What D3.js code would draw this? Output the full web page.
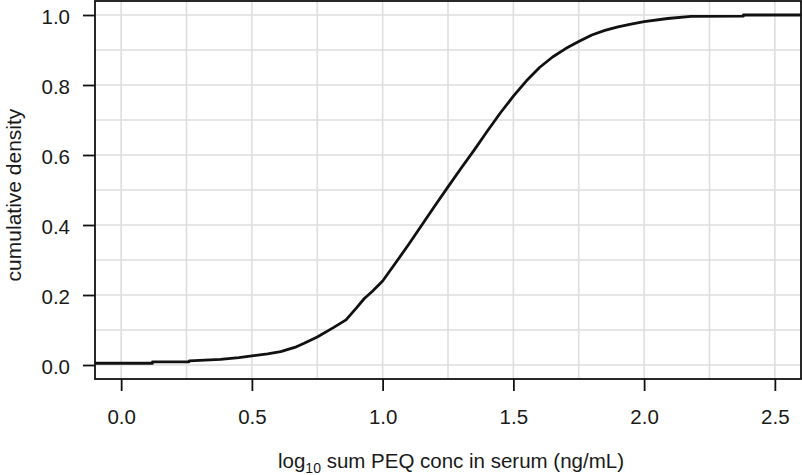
<!DOCTYPE html>
<html>
<head>
<meta charset="utf-8">
<script src="https://cdn.jsdelivr.net/npm/d3@7"></script>
<style>
  html, body { margin: 0; padding: 0; background: #fff; }
  svg { display: block; font-family: "Liberation Sans", Arial, sans-serif; }
</style>
</head>
<body>
<svg id="chart" width="802" height="475"></svg>
<script>
// ECDF of log10 sum PEQ concentration
const concLog10 = [-0.1, 0.12, 0.12, 0.26, 0.26, 0.38, 0.45, 0.50, 0.56, 0.61, 0.67, 0.70, 0.75, 0.81, 0.86, 0.90, 0.93, 0.96, 1.00, 1.05, 1.10, 1.15, 1.20, 1.25, 1.30, 1.35, 1.40, 1.45, 1.50, 1.55, 1.60, 1.65, 1.70, 1.75, 1.80, 1.85, 1.90, 1.95, 2.00, 2.09, 2.18, 2.38, 2.38, 2.6];
const cumDensity = [0.005, 0.005, 0.009, 0.009, 0.012, 0.016, 0.021, 0.026, 0.032, 0.038, 0.052, 0.062, 0.080, 0.106, 0.129, 0.163, 0.190, 0.210, 0.240, 0.292, 0.345, 0.400, 0.455, 0.509, 0.562, 0.614, 0.668, 0.720, 0.768, 0.812, 0.850, 0.880, 0.904, 0.924, 0.943, 0.956, 0.966, 0.974, 0.981, 0.990, 0.996, 0.997, 1.0, 1.0];

const xTicks = [0.0, 0.5, 1.0, 1.5, 2.0, 2.5];
const yTicks = [0.0, 0.2, 0.4, 0.6, 0.8, 1.0];
const xGrid = [0, 0.25, 0.5, 0.75, 1.0, 1.25, 1.5, 1.75, 2.0, 2.25, 2.5];
const yGrid = [0, 0.1, 0.2, 0.3, 0.4, 0.5, 0.6, 0.7, 0.8, 0.9, 1.0];
const xTitleMain = "log";
const xTitleSub = "10";
const xTitleRest = " sum PEQ conc in serum (ng/mL)";
const yTitle = "cumulative density";

const svg = d3.select("#chart");
const pLeft = 95, pRight = 801, pTop = 1, pBottom = 379;

const x = d3.scaleLinear().domain([-0.1, 2.6]).range([pLeft, pRight]);
const y = d3.scaleLinear().domain([-0.04, 1.04]).range([pBottom, pTop]);

// grid
svg.append("g").selectAll("line").data(xGrid).join("line")
  .attr("x1", d => x(d)).attr("x2", d => x(d))
  .attr("y1", pTop).attr("y2", pBottom)
  .attr("stroke", "#dedede").attr("stroke-width", 1.6);
svg.append("g").selectAll("line").data(yGrid).join("line")
  .attr("x1", pLeft).attr("x2", pRight)
  .attr("y1", d => y(d)).attr("y2", d => y(d))
  .attr("stroke", "#dedede").attr("stroke-width", 1.6);

// curve
const pts = concLog10.map((v, i) => [v, cumDensity[i]]);
svg.append("path")
  .datum(pts)
  .attr("fill", "none")
  .attr("stroke", "#111")
  .attr("stroke-width", 2.8)
  .attr("stroke-linejoin", "round")
  .attr("d", d3.line().x(d => x(d[0])).y(d => y(d[1])));

// axes
const xAxis = d3.axisBottom(x).tickValues(xTicks).tickFormat(d3.format(".1f"))
  .tickSize(12).tickSizeOuter(0).tickPadding(18);
const gx = svg.append("g").attr("transform", `translate(0,${pBottom})`).call(xAxis);
const yAxis = d3.axisLeft(y).tickValues(yTicks).tickFormat(d3.format(".1f"))
  .tickSize(12).tickSizeOuter(0).tickPadding(13);
const gy = svg.append("g").attr("transform", `translate(${pLeft},0)`).call(yAxis);
[gx, gy].forEach(g => {
  g.select(".domain").remove();
  g.selectAll(".tick line").attr("stroke", "#111").attr("stroke-width", 1.8);
  g.selectAll(".tick text").attr("fill", "#1a1a1a").style("font-size", "20.5px")
    .style("font-family", "'Liberation Sans', Arial, sans-serif");
});
gy.selectAll(".tick text").attr("dy", "0.4em");

// frame
svg.append("rect")
  .attr("x", pLeft).attr("y", pTop)
  .attr("width", pRight - pLeft).attr("height", pBottom - pTop)
  .attr("fill", "none").attr("stroke", "#111").attr("stroke-width", 1.8);

// titles
const xt = svg.append("text")
  .attr("x", (pLeft + pRight) / 2 + 3).attr("y", 468)
  .attr("text-anchor", "middle")
  .attr("fill", "#1a1a1a")
  .style("font-size", "20.5px");
xt.append("tspan").text(xTitleMain);
xt.append("tspan").text(xTitleSub).attr("dy", 5).style("font-size", "14px");
xt.append("tspan").text(xTitleRest).attr("dy", -5);

svg.append("text")
  .attr("transform", `translate(21,${(pTop + pBottom) / 2 + 5}) rotate(-90)`)
  .attr("text-anchor", "middle")
  .attr("fill", "#1a1a1a")
  .style("font-size", "21px")
  .text(yTitle);
</script>
</body>
</html>
